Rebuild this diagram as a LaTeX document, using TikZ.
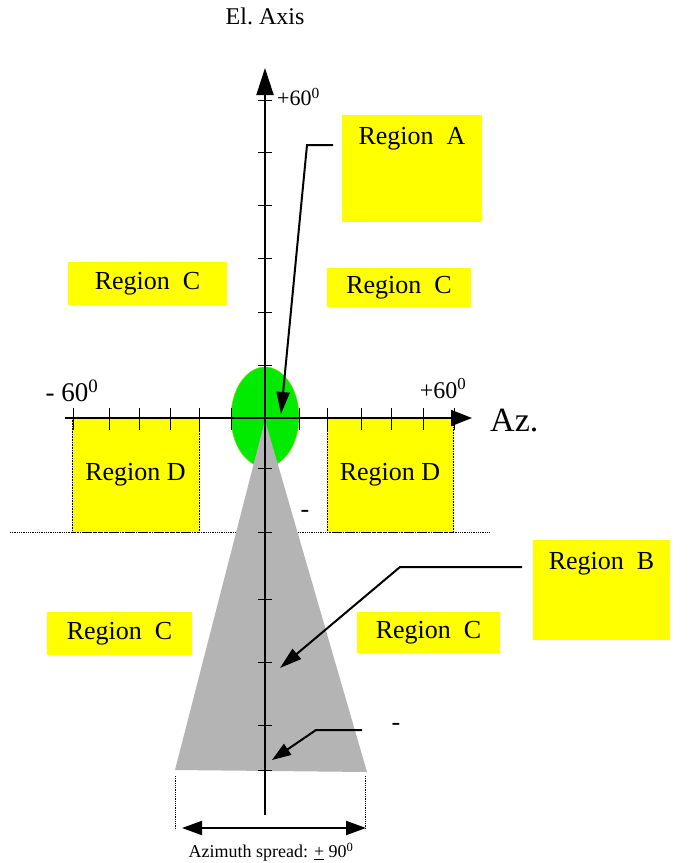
\documentclass[tikz,border=0pt]{standalone}
\usepackage{fontspec}
\setmainfont{Liberation Serif}
\usepackage{tikz}
\usetikzlibrary{arrows.meta,positioning,shapes.geometric}

\definecolor{regyellow}{RGB}{255,255,0}
\definecolor{beamgreen}{RGB}{0,235,0}
\definecolor{spreadgray}{RGB}{180,180,180}

\begin{document}
\begin{tikzpicture}[x=1pt,y=-1pt, every node/.style={font=\fontsize{26}{30}\selectfont},
  ybox/.style={fill=regyellow,inner sep=0pt},
  dbox/.style={ybox,draw=black,densely dotted,line width=0.6pt},
  lbl/.style={inner sep=0pt},
  axis/.style={line width=2pt,-{Triangle[length=27pt,width=17pt]}},
  tick/.style={line width=0.6pt},
  lead/.style={line width=2pt,-{Triangle[length=22pt,width=13pt]}},
  guide/.style={densely dotted,line width=0.8pt}]
\useasboundingbox (0,0) rectangle (691,863);
% regions
\node[ybox,minimum width=140pt,minimum height=107pt] (regA) at (412,168.5) {};
\node[lbl,below=12pt of regA.north] {Region~~A};
\node[ybox,minimum width=137pt,minimum height=100pt] (regB) at (601.5,590) {};
\node[lbl,below=12pt of regB.north] {Region~~B};
\node[ybox,minimum width=159pt,minimum height=43pt] (regCtl) at (147.5,283.5) {Region~~C};
\node[ybox,minimum width=144pt,minimum height=39pt] (regCtr) at (399,287.5) {Region~~C};
\node[ybox,minimum width=145pt,minimum height=43pt] (regCbl) at (119.5,633.5) {Region~~C};
\node[ybox,minimum width=143pt,minimum height=41pt] (regCbr) at (428.5,632.5) {Region~~C};
\node[dbox,minimum width=127pt,minimum height=114pt] (regDl) at (135.5,475) {Region D};
\node[dbox,minimum width=126pt,minimum height=114pt] (regDr) at (390,475) {Region D};
\draw[guide] (10,532) -- (490,532);
% beam and spread
\node[ellipse,fill=beamgreen,draw=yellow!60!green,line width=0.5pt,minimum width=68pt,minimum height=100pt,inner sep=0pt] (beam) at (265,417) {};
\coordinate (apex) at (265,420);
\coordinate (baseL) at (175,770);
\coordinate (baseR) at (367,772);
\fill[spreadgray] (apex) -- (baseL) -- (baseR) -- cycle;
% axes
\coordinate (elBot) at (265,815);
\coordinate (elTop) at (265,68);
\coordinate (azL) at (65,418);
\coordinate (azR) at (472,418);
\draw[axis] (elBot) -- (elTop);
\draw[axis,-{Triangle[length=21pt,width=16pt]}] (azL) -- (azR);
\foreach \y in {100,152,205,258,312,365,468,532,599,662,725,770}
  \draw[tick] (258,\y) -- (272,\y);
\foreach \x in {73,109,139,170,199,231,299,327,361,391,423,454}
  \draw[tick] (\x,408) -- (\x,430);
\node[lbl,font=\fontsize{24}{28}\selectfont] (elLbl) at (265,16) {El.\ Axis};
\node[lbl,font=\fontsize{34}{40}\selectfont,anchor=west] (azLbl) at (490,421) {Az.};
\node[lbl,font=\fontsize{22}{26}\selectfont,anchor=west] (elMax) at (277,97) {+60\textsuperscript{0}};
\node[lbl,font=\fontsize{27}{30}\selectfont] (azMin) at (72,391) {-~60\textsuperscript{0}};
\node[lbl,font=\fontsize{24}{28}\selectfont] (azMax) at (443,389) {+60\textsuperscript{0}};
\node[lbl] (dashD) at (305,514) {-};
\node[lbl] (dashC) at (396,727) {-};
% leaders
\coordinate (aStart) at (333,145);
\coordinate (aBend) at (307,145);
\coordinate (aTip) at (281,414);
\draw[lead] (aStart) -- (aBend) -- (aTip);
\coordinate (bStart) at (522,567);
\coordinate (bBend) at (400,567);
\coordinate (bTip) at (280,668);
\draw[lead] (bStart) -- (bBend) -- (bTip);
\coordinate (cStart) at (362,730);
\coordinate (cBend) at (316,730);
\coordinate (cTip) at (272,760);
\draw[lead,-{Triangle[length=19pt,width=13pt]}] (cStart) -- (cBend) -- (cTip);
% spread
\draw[guide] (175,776) -- (175,830);
\draw[guide] (365,776) -- (365,830);
\coordinate (sprL) at (182,828);
\coordinate (sprR) at (366,828);
\draw[line width=2pt,{Triangle[length=20pt,width=14pt]}-{Triangle[length=20pt,width=14pt]}] (sprL) -- (sprR);
\node[lbl,font=\fontsize{18}{22}\selectfont] (sprLbl) at (271,852) {Azimuth spread: \underline{+}~90\textsuperscript{0}};
\end{tikzpicture}
\end{document}
